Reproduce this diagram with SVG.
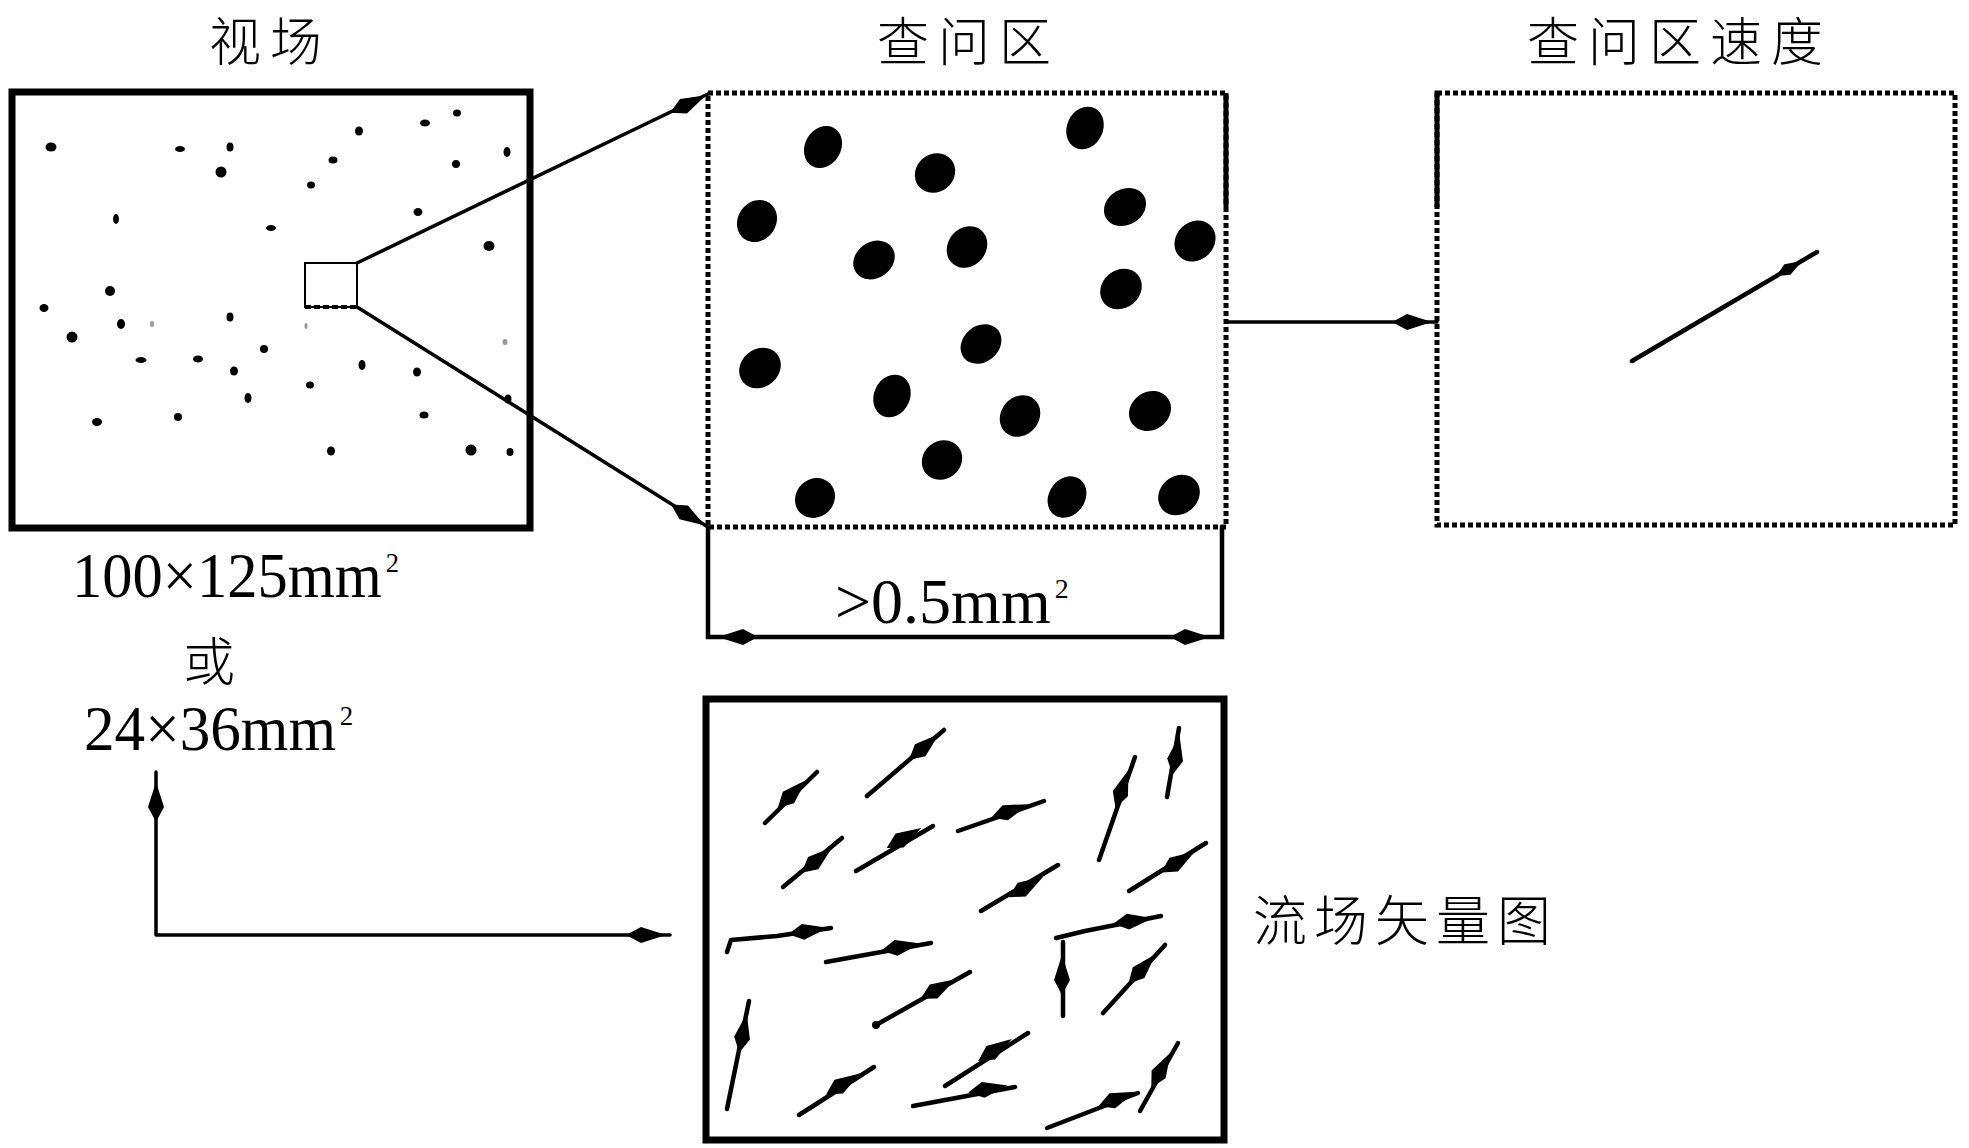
<svg xmlns="http://www.w3.org/2000/svg" xmlns:xlink="http://www.w3.org/1999/xlink" width="1969" height="1148" viewBox="0 0 1969 1148">
<style>
.cjk{font-family:"Noto Sans CJK SC","Noto Sans CJK JP",sans-serif;font-size:54px;font-weight:300;fill:#000;letter-spacing:7px}
.ttl{font-size:52px;letter-spacing:9px}
.lat{font-family:"Liberation Serif","Times New Roman",serif;fill:#000;font-size:64px}
.sup{font-size:28px}
.solid{fill:none;stroke:#000;stroke-width:7}
.dot{fill:none;stroke:#000;stroke-width:5;stroke-dasharray:5 3}
.ln{fill:none;stroke:#000;stroke-width:3.5;stroke-linecap:round;stroke-linejoin:round}
.vl{fill:none;stroke:#000;stroke-width:4.5;stroke-linecap:round;stroke-linejoin:round}
.p{fill:#000}
</style>
<defs>
<path id="sp" d="M-20,0 L-5,-8 L20,0 L-5,8 Z" fill="#000"/>
<path id="sps" d="M-16,0 L-3,-6 L14,0 L-3,6 Z" fill="#000"/>
</defs>
<rect width="1969" height="1148" fill="#fff"/>

<g id="titles">
<text class="cjk ttl" x="209" y="61">视场</text>
<text class="cjk ttl" x="877" y="61">查问区</text>
<text class="cjk ttl" x="1527" y="61">查问区速度</text>
</g>

<g id="field">
<rect class="solid" x="12" y="92" width="518" height="436"/>
<rect x="305" y="263" width="52" height="44" fill="none" stroke="#000" stroke-width="2"/>
<line x1="305" y1="307" x2="357" y2="307" stroke="#000" stroke-width="4" stroke-dasharray="6 3"/>
<g class="p">
<ellipse cx="51" cy="147" rx="5.5" ry="4.5"/>
<ellipse cx="180" cy="149" rx="5" ry="3"/>
<ellipse cx="230" cy="147" rx="3.5" ry="4.5"/>
<ellipse cx="221" cy="172" rx="5.5" ry="5.5"/>
<ellipse cx="359" cy="131" rx="4" ry="4.5"/>
<ellipse cx="425" cy="123" rx="5" ry="3.5"/>
<ellipse cx="457" cy="113" rx="4" ry="3.5"/>
<ellipse cx="507" cy="152" rx="3.5" ry="5"/>
<ellipse cx="333" cy="160" rx="4.5" ry="3.5"/>
<ellipse cx="456" cy="164" rx="4" ry="4"/>
<ellipse cx="311" cy="185" rx="4" ry="3.5"/>
<ellipse cx="116" cy="219" rx="3" ry="5"/>
<ellipse cx="271" cy="228" rx="5" ry="3"/>
<ellipse cx="418" cy="212" rx="4.5" ry="4"/>
<ellipse cx="489" cy="246" rx="5.5" ry="5"/>
<ellipse cx="110" cy="291" rx="5" ry="5"/>
<ellipse cx="44" cy="308" rx="4.5" ry="4"/>
<ellipse cx="121" cy="324" rx="4" ry="5"/>
<ellipse cx="72" cy="337" rx="5.5" ry="5.5"/>
<ellipse cx="230" cy="317" rx="3.5" ry="4.5"/>
<ellipse cx="264" cy="349" rx="4" ry="4"/>
<ellipse cx="141" cy="360" rx="5.5" ry="3"/>
<ellipse cx="198" cy="359" rx="5" ry="3.5"/>
<ellipse cx="234" cy="371" rx="4" ry="4.5"/>
<ellipse cx="362" cy="365" rx="3.5" ry="5"/>
<ellipse cx="417" cy="372" rx="4" ry="4.5"/>
<ellipse cx="310" cy="385" rx="4" ry="3.5"/>
<ellipse cx="248" cy="398" rx="3.5" ry="5"/>
<ellipse cx="508" cy="399" rx="3.5" ry="4.5"/>
<ellipse cx="97" cy="422" rx="5" ry="4"/>
<ellipse cx="178" cy="417" rx="4" ry="4"/>
<ellipse cx="424" cy="415" rx="4.5" ry="3.5"/>
<ellipse cx="331" cy="451" rx="4" ry="4.5"/>
<ellipse cx="471" cy="450" rx="5.5" ry="5.5"/>
<ellipse cx="510" cy="452" rx="3.5" ry="4"/>
</g>
<g fill="#999">
<ellipse cx="152" cy="324" rx="2" ry="3"/>
<ellipse cx="306" cy="326" rx="1.5" ry="3"/>
<ellipse cx="505" cy="342" rx="2.5" ry="3"/>
</g>
</g>

<g id="interrogation">
<rect class="dot" x="708" y="93" width="518" height="434"/>
<line x1="1226" y1="93" x2="1226" y2="207" stroke="#000" stroke-width="5"/>
<g class="p">
<ellipse cx="823" cy="147" rx="22" ry="18" transform="rotate(-60 823 147)"/>
<ellipse cx="935" cy="173" rx="21" ry="19" transform="rotate(-40 935 173)"/>
<ellipse cx="1085" cy="128" rx="22" ry="18" transform="rotate(-65 1085 128)"/>
<ellipse cx="757" cy="221" rx="22" ry="19" transform="rotate(-55 757 221)"/>
<ellipse cx="1125" cy="207" rx="22" ry="18" transform="rotate(-30 1125 207)"/>
<ellipse cx="874" cy="260" rx="22" ry="18" transform="rotate(-35 874 260)"/>
<ellipse cx="967" cy="247" rx="22" ry="19" transform="rotate(-50 967 247)"/>
<ellipse cx="1195" cy="241" rx="22" ry="19" transform="rotate(-45 1195 241)"/>
<ellipse cx="1121" cy="289" rx="22" ry="19" transform="rotate(-40 1121 289)"/>
<ellipse cx="981" cy="344" rx="22" ry="18" transform="rotate(-40 981 344)"/>
<ellipse cx="760" cy="368" rx="22" ry="19" transform="rotate(-40 760 368)"/>
<ellipse cx="892" cy="396" rx="22" ry="18" transform="rotate(-65 892 396)"/>
<ellipse cx="1020" cy="416" rx="22" ry="19" transform="rotate(-50 1020 416)"/>
<ellipse cx="1150" cy="411" rx="22" ry="19" transform="rotate(-35 1150 411)"/>
<ellipse cx="942" cy="460" rx="21" ry="19" transform="rotate(-40 942 460)"/>
<ellipse cx="815" cy="498" rx="21" ry="19" transform="rotate(-45 815 498)"/>
<ellipse cx="1067" cy="497" rx="22" ry="18" transform="rotate(-55 1067 497)"/>
<ellipse cx="1179" cy="495" rx="22" ry="19" transform="rotate(-40 1179 495)"/>
</g>
</g>

<g id="velocity">
<rect class="dot" x="1437" y="93" width="518" height="432"/>
<line x1="1437" y1="93" x2="1437" y2="207" stroke="#000" stroke-width="5"/>
<line class="vl" x1="1632" y1="361" x2="1817" y2="252"/>
<use xlink:href="#sps" transform="translate(1790 268) rotate(-30.5)"/>
</g>

<g id="flowmap">
<rect class="solid" x="706" y="699" width="518" height="441"/>
<g class="vl">
<line x1="765" y1="823" x2="817" y2="772"/>
<line x1="867" y1="796" x2="944" y2="730"/>
<line x1="783" y1="887" x2="842" y2="838"/>
<line x1="856" y1="871" x2="933" y2="826"/>
<line x1="958" y1="831" x2="1044" y2="801"/>
<line x1="1099" y1="860" x2="1135" y2="757"/>
<line x1="1167" y1="797" x2="1179" y2="728"/>
<line x1="1129" y1="891" x2="1206" y2="843"/>
<line x1="981" y1="911" x2="1058" y2="865"/>
<polyline points="727,952 731,940 777,936 831,928"/>
<line x1="826" y1="962" x2="931" y2="943"/>
<line x1="1063" y1="1016" x2="1063" y2="942"/>
<polyline points="1056,938 1085,931 1161,916"/>
<line x1="1103" y1="1013" x2="1165" y2="945"/>
<line x1="876" y1="1025" x2="970" y2="972"/>
<line x1="727" y1="1109" x2="749" y2="1001"/>
<line x1="799" y1="1115" x2="874" y2="1067"/>
<line x1="945" y1="1086" x2="1028" y2="1033"/>
<line x1="913" y1="1106" x2="1015" y2="1087"/>
<line x1="1047" y1="1128" x2="1138" y2="1093"/>
<line x1="1140" y1="1111" x2="1178" y2="1043"/>
</g>
<use xlink:href="#sp" transform="translate(792 794) rotate(-44.5)"/>
<use xlink:href="#sp" transform="translate(924 747) rotate(-41)"/>
<use xlink:href="#sp" transform="translate(817 860) rotate(-40)"/>
<use xlink:href="#sp" transform="translate(904 838) rotate(-30)"/>
<use xlink:href="#sp" transform="translate(1010 811) rotate(-20)"/>
<use xlink:href="#sp" transform="translate(1122 789) rotate(-71)"/>
<use xlink:href="#sp" transform="translate(1176 755) rotate(-80)"/>
<use xlink:href="#sp" transform="translate(1178 862) rotate(-32)"/>
<use xlink:href="#sp" transform="translate(1026 887) rotate(-31)"/>
<use xlink:href="#sp" transform="translate(808 931) rotate(-9)"/>
<use xlink:href="#sp" transform="translate(901 947) rotate(-10)"/>
<use xlink:href="#sp" transform="translate(1062 975) rotate(-90)"/>
<use xlink:href="#sp" transform="translate(1133 921) rotate(-8)"/>
<use xlink:href="#sp" transform="translate(1142 969) rotate(-47)"/>
<use xlink:href="#sp" transform="translate(938 989) rotate(-29)"/>
<use xlink:href="#sp" transform="translate(743 1033) rotate(-79)"/>
<use xlink:href="#sp" transform="translate(843 1084) rotate(-32)"/>
<use xlink:href="#sp" transform="translate(995 1050) rotate(-33)"/>
<use xlink:href="#sp" transform="translate(988 1089) rotate(-10)"/>
<use xlink:href="#sp" transform="translate(1117 1099) rotate(-21)"/>
<use xlink:href="#sp" transform="translate(1161 1070) rotate(-61)"/>
<circle cx="876" cy="1025" r="4" class="p"/>
</g>

<g id="labels">
<text class="lat" transform="translate(72 597) scale(0.946 1)">100×125mm<tspan class="sup" dx="4" dy="-25">2</tspan></text>
<text class="cjk" x="183" y="681" style="letter-spacing:0;font-size:52px">或</text>
<text class="lat" transform="translate(84 750) scale(0.956 1)">24×36mm<tspan class="sup" dx="4" dy="-25">2</tspan></text>
<text class="lat" transform="translate(835 623)">&gt;0.5mm<tspan class="sup" dx="4" dy="-25">2</tspan></text>
<text class="cjk" x="1253" y="941">流场矢量图</text>
</g>

<g id="connectors">
<line class="ln" x1="357" y1="263" x2="710" y2="93"/>
<use xlink:href="#sp" transform="translate(688 104) rotate(-25.6)"/>
<line class="ln" x1="357" y1="307" x2="708" y2="527"/>
<use xlink:href="#sp" transform="translate(688 515) rotate(32)"/>
<line class="ln" x1="1226" y1="322" x2="1437" y2="322"/>
<use xlink:href="#sp" transform="translate(1412 322)"/>
<polyline points="708,527 708,637 1222,637 1222,525" fill="none" stroke="#000" stroke-width="4.5"/>
<use xlink:href="#sp" transform="translate(738 637) rotate(180)"/>
<use xlink:href="#sp" transform="translate(1190 637)"/>
<polyline class="ln" points="156,772 156,935 670,935"/>
<use xlink:href="#sp" transform="translate(156 802) rotate(-90)"/>
<use xlink:href="#sp" transform="translate(646 935)"/>
</g>
</svg>
